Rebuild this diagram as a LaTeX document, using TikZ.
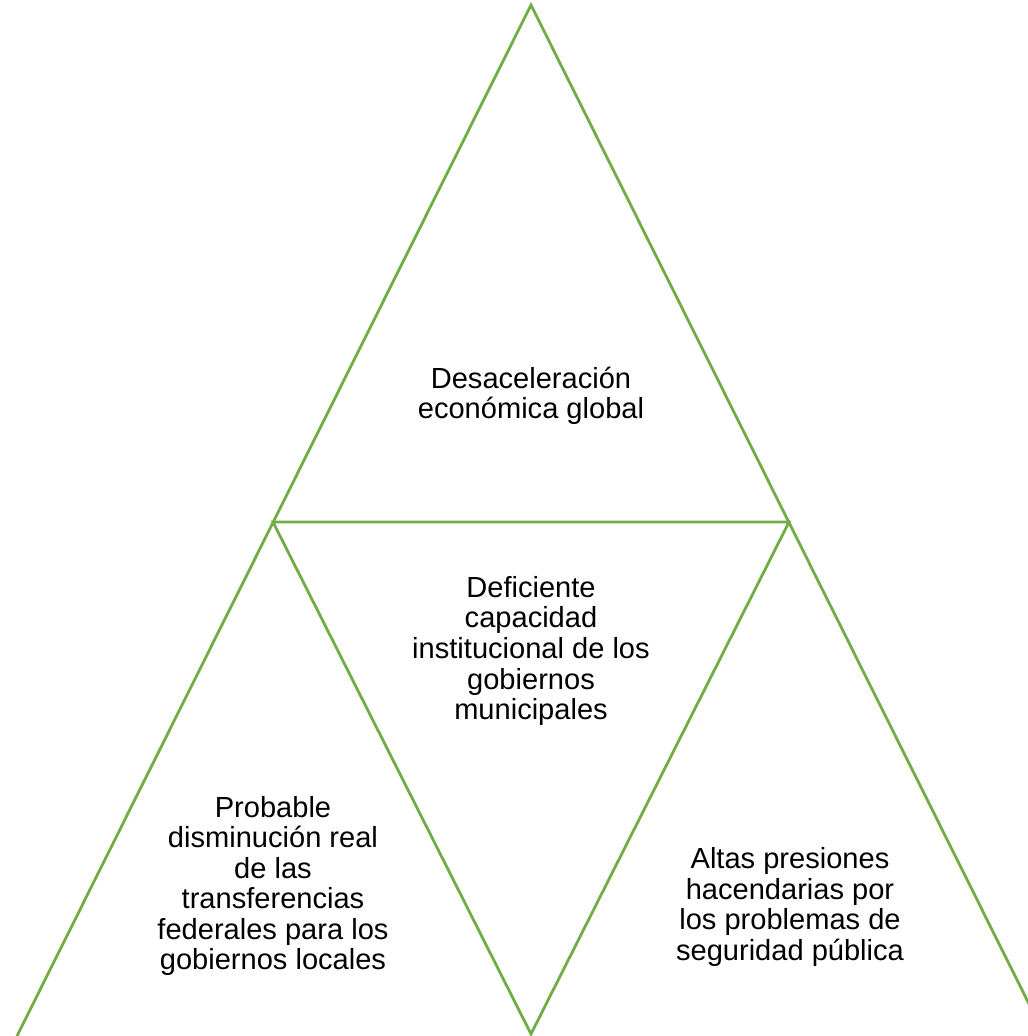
\documentclass[tikz,border=0pt]{standalone}
\usepackage{fontspec}
\setmainfont{Liberation Sans}
\definecolor{leafgreen}{RGB}{112,173,71}
\begin{document}
\begin{tikzpicture}[x=0.75pt,y=-0.75pt,
  edge/.style={draw=leafgreen,line width=2.1pt,line join=miter},
  label/.style={align=center,font=\fontsize{21.8}{22.9}\selectfont,text=black,inner sep=0pt}]
\useasboundingbox (0,0) rectangle (1028,1036);
% corner points of the tiled triangles
\coordinate (top) at (531,5);
\coordinate (ml) at (273,522);
\coordinate (mr) at (789,522);
\coordinate (bl) at (17,1036);
\coordinate (bm) at (531,1034);
\coordinate (br) at (1045,1036);
\begin{scope}
  \clip (0,0) rectangle (1028,1036);
  \draw[edge] (bl) -- (top) -- (br);
  \draw[edge] (ml) -- (mr) -- (bm) -- cycle;
\end{scope}
% labels
\node[label] (t1) at (531,396) {Desaceleración\\económica global};
\node[label] (t2) at (531,651) {Deficiente\\capacidad\\institucional de los\\gobiernos\\municipales};
\node[label] (t3) at (273,886) {Probable\\disminución real\\de las\\transferencias\\federales para los\\gobiernos locales};
\node[label] (t4) at (790,907) {Altas presiones\\hacendarias por\\los problemas de\\seguridad pública};
\end{tikzpicture}
\end{document}
